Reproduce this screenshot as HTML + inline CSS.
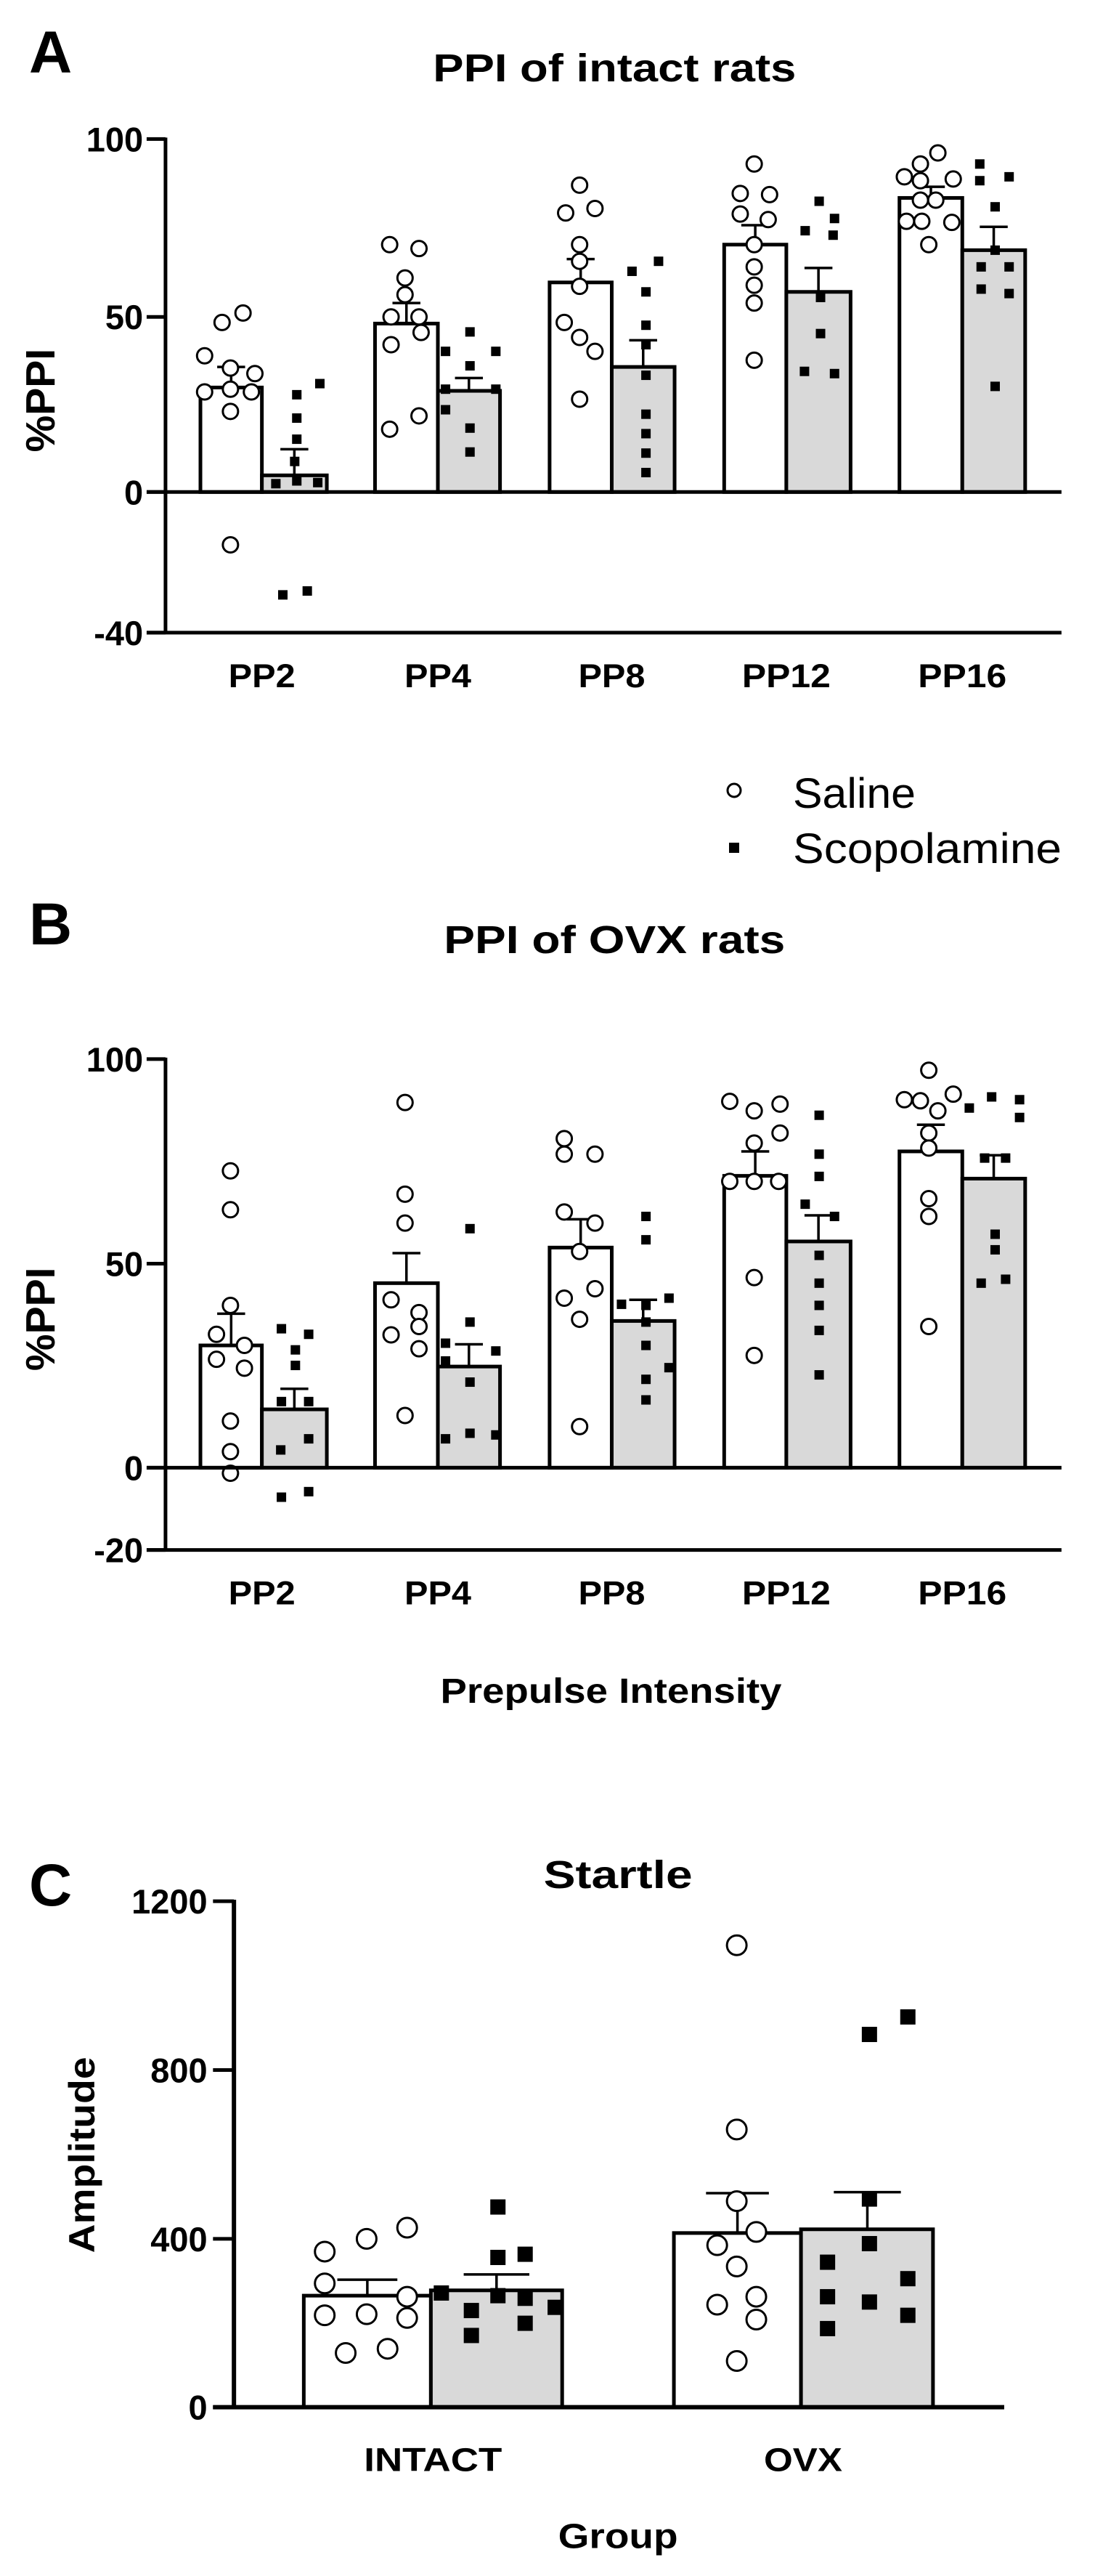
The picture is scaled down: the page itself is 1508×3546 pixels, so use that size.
<!DOCTYPE html>
<html><head><meta charset="utf-8"><style>
html,body{margin:0;padding:0;background:#fff;}
svg{display:block;}
text{font-family:"Liberation Sans",Arial,sans-serif;fill:#000;}
</style></head><body>
<svg id="s" width="1508" height="3546" viewBox="0 0 1508 3546" xmlns="http://www.w3.org/2000/svg"></svg>
<script>
const S=document.getElementById('s');let out='';
const SX=1508/1568;
function P(y0,h){const sy=h/1568;return {X:x=>x*SX,Y:y=>y0+y*sy};}
function line(x1,y1,x2,y2,w){out+=`<line x1="${x1}" y1="${y1}" x2="${x2}" y2="${y2}" stroke="#000" stroke-width="${w}"/>`;}
function txt(x,y,s,size,opts={}){const a=opts.anchor||'middle';const w=opts.bold===false?'normal':'bold';
 const tl=opts.len?` textLength="${opts.len}" lengthAdjust="spacingAndGlyphs"`:'';
 const tr=opts.rot?` transform="rotate(-90 ${x} ${y})"`:'';
 out+=`<text x="${x}" y="${y}" font-size="${size}" font-weight="${w}" text-anchor="${a}"${tl}${tr}>${s}</text>`;}
function circ(x,y,r){out+=`<circle cx="${x}" cy="${y}" r="${r}" fill="#fff" stroke="#000" stroke-width="3"/>`;}
function sq(x,y,s){out+=`<rect x="${x-s/2}" y="${y-s/2}" width="${s}" height="${s}" fill="#000"/>`;}
function bar(p,x1,x2,top,zero,fill){const X=p.X,Y=p.Y;out+=`<rect x="${X(x1)}" y="${Y(top)}" width="${X(x2)-X(x1)}" height="${Y(zero)-Y(top)}" fill="${fill}" stroke="#000" stroke-width="5"/>`;}
function err(p,xc,top,cap,hw){line(p.X(xc),p.Y(top),p.X(xc),p.Y(cap),3.5);line(p.X(xc-hw),p.Y(cap),p.X(xc+hw),p.Y(cap),3.5);}

function ppiPanel(p,letter,title,ticks,zeroY,botY,bars,errs,sal,scop){
 const X=p.X,Y=p.Y;
 const gx=[[287,375,468],[537,627,716],[787,876,966],[1037,1126,1218],[1288,1378,1468]];
 for(let i=0;i<5;i++){const g=gx[i];
  bar(p,g[0],g[1],bars[i][0],zeroY,'#fff');bar(p,g[1],g[2],bars[i][1],zeroY,'#d9d9d9');
  err(p,(g[0]+g[1])/2,bars[i][0],errs[i][0],20);err(p,(g[1]+g[2])/2,bars[i][1],errs[i][1],20);}
 sal.forEach(pt=>circ(X(pt[0]),Y(pt[1]),10.5));
 scop.forEach(pt=>sq(X(pt[0]),Y(pt[1]),13));
 line(X(237),Y(ticks[0][1])-2,X(237),Y(botY)+2,5);
 ticks.forEach(t=>{line(X(210),Y(t[1]),X(237),Y(t[1]),5);txt(X(205),Y(t[1])+17,t[0],47,{anchor:'end'});});
 line(X(210),Y(zeroY),X(1520),Y(zeroY),5);
 line(X(210),Y(botY),X(1520),Y(botY),5);
 const labs=['PP2','PP4','PP8','PP12','PP16'];
 for(let i=0;i<5;i++){txt(X(gx[i][1]),Y(botY)+75,labs[i],45,{len:labs[i].length==3?92:122});}
 txt(40,Y(0)+100,letter,82,{anchor:'start'});
 txt(X(880),Y(0)+112,title[0],54,{len:title[1]});
 txt(75,Y((ticks[0][1]+botY)/2)+20,'%PPI',57,{rot:true});
}

let pA=P(0,1200);
ppiPanel(pA,'A',['PPI of intact rats',500],[['100',250],['50',570],['0',885],['-40',1138]],885,1138,
 [[697,855],[582,703],[508,660],[440,525],[356,450]],
 [[660,808],[545,680],[466,612],[405,482],[336,408]],
 [[318,580],[348,563],[293,640],[330,662],[365,672],[293,705],[330,700],[360,705],[330,740],[330,980],
  [558,440],[600,447],[580,500],[580,530],[560,570],[600,570],[560,620],[603,598],[558,772],[600,748],
  [830,333],[810,383],[852,375],[830,440],[830,470],[830,515],[808,580],[830,607],[852,632],[830,718],
  [1080,295],[1060,348],[1102,350],[1060,385],[1100,395],[1080,440],[1080,480],[1080,513],[1080,545],[1080,648],
  [1343,275],[1318,295],[1295,318],[1318,325],[1365,322],[1318,360],[1340,360],[1298,398],[1320,398],[1363,400],[1330,440]],
 [[425,710],[458,690],[425,752],[425,790],[422,830],[425,865],[455,868],[395,870],[405,1070],[440,1063],
  [673,597],[638,632],[710,632],[673,658],[638,700],[710,700],[638,737],[673,770],[673,813],
  [943,470],[905,488],[925,525],[925,585],[925,620],[925,675],[925,745],[925,780],[925,815],[925,850],
  [1173,362],[1195,393],[1153,415],[1193,423],[1175,535],[1175,600],[1152,668],[1195,672],
  [1403,295],[1445,318],[1403,325],[1425,372],[1425,450],[1405,480],[1445,480],[1405,520],[1445,528],[1425,695]]);
circ(1011,1088,9);sq(1011,1167,14);
txt(1092,1112,'Saline',58,{anchor:'start',bold:false,len:169});
txt(1092,1188,'Scopolamine',58,{anchor:'start',bold:false,len:370});

let pB=P(1200,1200);
ppiPanel(pB,'B',['PPI of OVX rats',470],[['100',337],['50',705],['0',1072],['-20',1220]],1072,1220,
 [[852,967],[740,890],[676,808],[547,665],[503,552]],
 [[795,930],[686,850],[625,770],[503,618],[455,510]],
 [[330,538],[330,608],[330,780],[310,832],[350,852],[310,877],[350,893],[330,988],[330,1043],[330,1082],
  [580,415],[580,580],[580,632],[560,770],[600,793],[600,818],[560,833],[600,858],[580,978],
  [808,480],[808,508],[852,508],[808,612],[852,632],[830,683],[808,767],[852,750],[830,805],[830,998],
  [1045,413],[1080,430],[1117,418],[1117,470],[1080,488],[1045,557],[1080,557],[1115,557],[1080,730],[1080,870],
  [1330,357],[1295,410],[1318,412],[1365,400],[1343,430],[1330,470],[1330,497],[1330,588],[1330,620],[1330,818]],
 [[403,822],[442,832],[423,860],[423,888],[403,953],[442,953],[442,1020],[402,1040],[403,1125],[442,1115],
  [673,642],[673,810],[638,848],[710,862],[638,880],[673,918],[638,1020],[673,1010],[710,1013],
  [925,620],[925,662],[890,778],[925,780],[958,767],[925,810],[925,852],[958,892],[925,913],[925,950],
  [1173,438],[1173,508],[1173,548],[1153,598],[1195,620],[1173,690],[1173,740],[1173,780],[1173,825],[1173,905],
  [1388,425],[1420,405],[1460,410],[1460,442],[1410,515],[1440,515],[1425,652],[1425,680],[1405,740],[1440,733]]);
txt(pB.X(875),pB.Y(1495),'Prepulse Intensity',48,{len:470});

let pC=P(2400,1146);
(function(){const p=pC,X=p.X,Y=p.Y;
 bar(p,435,617,1040,1250,'#fff');bar(p,617,805,1030,1250,'#d9d9d9');
 bar(p,965,1147,922,1250,'#fff');bar(p,1147,1336,915,1250,'#d9d9d9');
 err(p,526,1040,1010,43);err(p,711,1030,1000,47);err(p,1056,922,847,45);err(p,1242,915,845,48);
 [[583,912],[525,933],[465,957],[465,1017],[583,1042],[465,1077],[525,1075],[583,1082],[495,1148],[555,1140],
  [1055,380],[1055,727],[1055,862],[1083,920],[1027,945],[1055,985],[1083,1042],[1027,1057],[1083,1085],[1055,1163]]
  .forEach(pt=>circ(X(pt[0]),Y(pt[1]),13.5));
 [[713,873],[713,968],[752,962],[632,1035],[713,1040],[752,1045],[795,1062],[675,1068],[752,1092],[675,1115],
  [1300,515],[1245,548],[1245,858],[1245,942],[1185,977],[1300,1008],[1185,1042],[1245,1052],[1300,1077],[1185,1102]]
  .forEach(pt=>sq(X(pt[0]),Y(pt[1]),21));
 line(X(335),Y(297)-2,X(335),Y(1250),6);
 [['1200',297],['800',615],['400',933],['0',1250]].forEach(t=>{line(X(305),Y(t[1]),X(335),Y(t[1]),5);txt(X(297),Y(t[1])+17,t[0],47,{anchor:'end'});});
 line(X(305),Y(1250),X(1438),Y(1250),6);
 txt(X(620),Y(1370),'INTACT',45,{len:190});
 txt(X(1150),Y(1370),'OVX',45,{len:108});
 txt(X(885),Y(1515),'Group',48,{len:165});
 txt(X(885),Y(272),'Startle',54,{len:205});
 txt(40,Y(305),'C',82,{anchor:'start'});
 txt(X(135),Y(775),'Amplitude',50,{rot:true,len:270});
})();
S.innerHTML=out;
</script>
</body></html>
